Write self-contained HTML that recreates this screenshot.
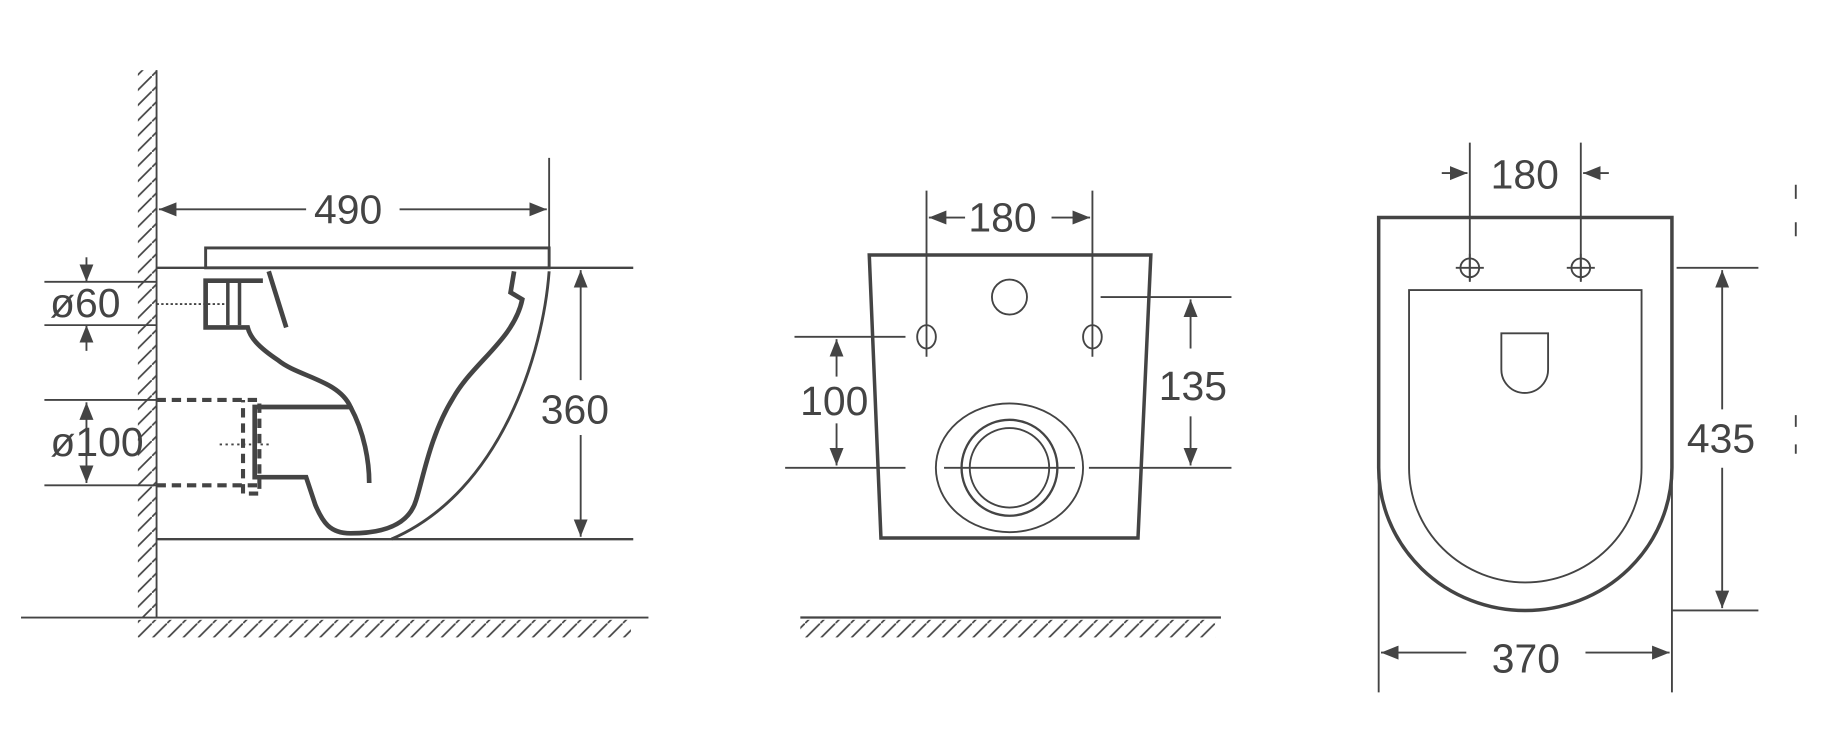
<!DOCTYPE html>
<html><head><meta charset="utf-8"><style>
html,body{margin:0;padding:0;background:#fff;width:1832px;height:752px;overflow:hidden}
svg{display:block}
text{font-family:"Liberation Sans",sans-serif;font-size:35px;fill:#444;text-anchor:middle}
</style></head><body>
<svg width="1832" height="752" viewBox="0 0 1568 643" preserveAspectRatio="none" xmlns="http://www.w3.org/2000/svg">
<defs>
<marker id="a" viewBox="0 0 10 10" refX="10" refY="5" markerWidth="15" markerHeight="15" markerUnits="userSpaceOnUse" orient="auto-start-reverse"><path d="M0,1 L10,5 L0,9z" fill="#444"/></marker>
<pattern id="hv" width="13" height="13" patternUnits="userSpaceOnUse"><path d="M0,13 L13,0" stroke="#444" stroke-width="1.5"/></pattern>
</defs>
<g stroke="#444" fill="none" stroke-width="1.6">
<!-- LEFT VIEW -->
<rect x="118" y="60" width="16" height="468" fill="url(#hv)" stroke="none"/>
<line x1="134" y1="60" x2="134" y2="528"/>
<line x1="18" y1="528" x2="555" y2="528"/>
<rect x="118" y="530" width="422" height="15" fill="url(#hv)" stroke="none"/>
<line x1="470" y1="135" x2="470" y2="228"/>
<line x1="136" y1="179" x2="262" y2="179" marker-start="url(#a)"/>
<line x1="342" y1="179" x2="468" y2="179" marker-end="url(#a)"/>
<rect x="176" y="212" width="294" height="17" stroke-width="2.5"/>
<line x1="134" y1="229" x2="542" y2="229" stroke-width="2"/>
<line x1="134" y1="461" x2="542" y2="461" stroke-width="2"/>
<path d="M470,232 C465,300 430,420 335,461" stroke-width="2.5"/>
<path d="M440,232 L437,250 L447,256 C440,290 405,310 388,340 C368,372 362,410 356,428 C350,448 330,456 300,456 C282,456 276,446 270,432 L262,408 L218,408 L218,348 L300,348 C290,325 255,322 238,308 C220,296 214,288 212,280 L176,280 L176,240 L225,240" stroke-width="4"/>
<path d="M300,348 C312,370 316,395 316,413" stroke-width="4"/>
<path d="M195,242 L195,278 M205,242 L205,278" stroke-width="3"/>
<path d="M230,232 L245,280" stroke-width="4"/>
<line x1="134" y1="260" x2="195" y2="260" stroke-dasharray="2,2"/>
<path d="M134,342 L222,342 L222,422 L208,422 L208,342 M134,415 L222,415" stroke-width="3.5" stroke-dasharray="8,5"/>
<line x1="188" y1="380" x2="232" y2="380" stroke-dasharray="2,3"/>
<line x1="38" y1="241" x2="134" y2="241"/>
<line x1="38" y1="278" x2="134" y2="278"/>
<line x1="74" y1="220" x2="74" y2="241" marker-end="url(#a)"/>
<line x1="74" y1="300" x2="74" y2="278" marker-end="url(#a)"/>
<line x1="38" y1="342" x2="134" y2="342"/>
<line x1="38" y1="415" x2="134" y2="415"/>
<line x1="74" y1="344" x2="74" y2="413" marker-start="url(#a)" marker-end="url(#a)"/>
<line x1="497" y1="231" x2="497" y2="325" marker-start="url(#a)"/>
<line x1="497" y1="372" x2="497" y2="459" marker-end="url(#a)"/>
<!-- MIDDLE VIEW -->
<path d="M744,218 L985,218 L974,460 L754,460 Z" stroke-width="3"/>
<line x1="793" y1="163" x2="793" y2="305"/>
<line x1="935" y1="163" x2="935" y2="305"/>
<line x1="795" y1="186" x2="826" y2="186" marker-start="url(#a)"/>
<line x1="900" y1="186" x2="933" y2="186" marker-end="url(#a)"/>
<circle cx="864" cy="254" r="15"/>
<ellipse cx="793" cy="288" rx="8" ry="10"/>
<ellipse cx="935" cy="288" rx="8" ry="10"/>
<line x1="680" y1="288" x2="775" y2="288"/>
<line x1="672" y1="400" x2="775" y2="400"/>
<line x1="716" y1="290" x2="716" y2="322" marker-start="url(#a)"/>
<line x1="716" y1="362" x2="716" y2="398" marker-end="url(#a)"/>
<line x1="942" y1="254" x2="1054" y2="254"/>
<line x1="932" y1="400" x2="1054" y2="400"/>
<line x1="1019" y1="256" x2="1019" y2="298" marker-start="url(#a)"/>
<line x1="1019" y1="356" x2="1019" y2="398" marker-end="url(#a)"/>
<ellipse cx="864" cy="400" rx="63" ry="55"/>
<ellipse cx="864" cy="400" rx="41" ry="41" stroke-width="2"/>
<ellipse cx="864" cy="400" rx="34" ry="34"/>
<line x1="808" y1="400" x2="920" y2="400"/>
<line x1="685" y1="528" x2="1045" y2="528" stroke-width="2"/>
<rect x="685" y="530" width="355" height="15" fill="url(#hv)" stroke="none"/>
<!-- RIGHT VIEW -->
<path d="M1180,186 L1431,186 L1431,400 A125.5,122 0 0 1 1180,400 Z" stroke-width="3"/>
<path d="M1206,248 L1405,248 L1405,400 A99.5,98 0 0 1 1206,400 Z"/>
<path d="M1285,285 L1325,285 L1325,316 A20,20 0 0 1 1285,316 Z"/>
<circle cx="1258" cy="229" r="8"/><path d="M1246,229 H1270 M1258,217 V241"/>
<circle cx="1353" cy="229" r="8"/><path d="M1341,229 H1365 M1353,217 V241"/>
<line x1="1258" y1="122" x2="1258" y2="240"/>
<line x1="1353" y1="122" x2="1353" y2="240"/>
<line x1="1234" y1="148" x2="1256" y2="148" marker-end="url(#a)"/>
<line x1="1377" y1="148" x2="1355" y2="148" marker-end="url(#a)"/>
<line x1="1435" y1="229" x2="1505" y2="229"/>
<line x1="1431" y1="522" x2="1505" y2="522"/>
<line x1="1474" y1="231" x2="1474" y2="350" marker-start="url(#a)"/>
<line x1="1474" y1="400" x2="1474" y2="520" marker-end="url(#a)"/>
<line x1="1180" y1="400" x2="1180" y2="592"/>
<line x1="1431" y1="400" x2="1431" y2="592"/>
<line x1="1182" y1="558" x2="1255" y2="558" marker-start="url(#a)"/>
<line x1="1357" y1="558" x2="1429" y2="558" marker-end="url(#a)"/>
<path d="M1537,158 V170 M1537,190 V202 M1537,355 V365 M1537,380 V388"/>
</g>
<text x="298" y="191">490</text>
<text x="73" y="271">ø60</text>
<text x="83" y="390">ø100</text>
<text x="492" y="362">360</text>
<text x="858" y="198">180</text>
<text x="714" y="355">100</text>
<text x="1021" y="342">135</text>
<text x="1305" y="161">180</text>
<text x="1473" y="387">435</text>
<text x="1306" y="575">370</text>
</svg>
</body></html>
